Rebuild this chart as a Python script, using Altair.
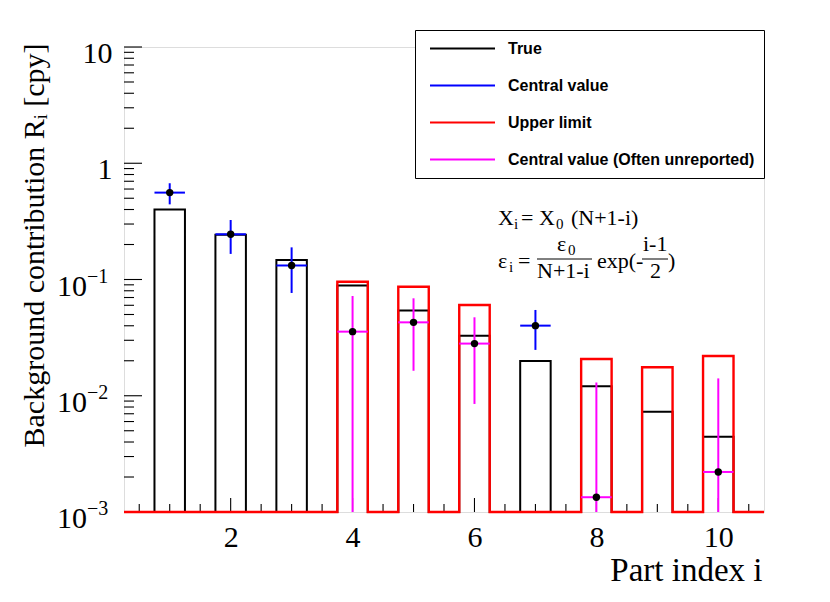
import altair as alt
import pandas as pd

# ---------------- data ----------------
part = [1, 2, 3, 4, 5, 6, 7, 8, 9, 10]
true_rate = [0.40, 0.243, 0.147, 0.089, 0.054, 0.0328, 0.0199, 0.0121, 0.0073, 0.00444]

upper_part = [4, 5, 6, 8, 9, 10]
upper_rate = [0.0957, 0.0867, 0.0604, 0.0207, 0.0176, 0.0220]

central_part = [1, 2, 3, 7]
central_rate = [0.559, 0.245, 0.132, 0.0401]
central_lo = [0.443, 0.166, 0.0766, 0.0248]
central_hi = [0.673, 0.325, 0.189, 0.0547]

unrep_part = [4, 5, 6, 8, 10]
unrep_rate = [0.0356, 0.0428, 0.0281, 0.00134, 0.00221]
unrep_lo = [0.0005, 0.0164, 0.0085, 0.0005, 0.0005]   # below the axis floor
unrep_hi = [0.0721, 0.0689, 0.0473, 0.0130, 0.0141]

series_names = ["True", "Central value", "Upper limit", "Central value (Often unreported)"]
series_colors = ["black", "#0000ff", "#ff0000", "#ff00ff"]

x_major = [2, 4, 6, 8, 10]
x_minor = [0.5 * k for k in range(1, 22)]
y_major = [0.001, 0.01, 0.1, 1, 10]
y_plain_labels = {1: "1\u00a0\u00a0", 10: "10"}
y_power_values = [0.001, 0.01, 0.1]
y_power_exps = ["\u22123", "\u22122", "\u22121"]
y_minor = [m * 10.0 ** d for d in range(-3, 1) for m in range(2, 10)]

X_MIN, X_MAX = 0.25, 10.75
Y_MIN, Y_MAX = 1e-3, 10.0
HALF = 0.25

SERIF = "Liberation Serif"
SANS = "Liberation Sans"
W, H = 640, 465

# ---------------- scales / axes ----------------
xscale = alt.Scale(domain=[X_MIN, X_MAX], nice=False, zero=False)
yscale = alt.Scale(type="log", domain=[Y_MIN, Y_MAX], nice=False)

expr = "datum.value > 3 ? '10' : datum.value > 0.3 ? '1\u00a0\u00a0' : ''"

xaxis = alt.Axis(values=x_major, title="Part index i", labelFont=SERIF, labelFontSize=30,
                 labelColor="black", labelPadding=10, ticks=False, tickSize=0, domain=False,
                 grid=False, labelFlush=False, labelOverlap=False,
                 titleFont=SERIF, titleFontSize=33, titleFontWeight="normal", titleColor="black",
                 titleX=638, titleY=68, titleAlign="right", titleBaseline="alphabetic")
yaxis = alt.Axis(values=y_major, labelExpr=expr, title="Background contribution R\u1d62 [cpy]",
                 labelFont=SERIF, labelFontSize=30, labelColor="black", labelPadding=12,
                 labelAlign="right", labelBaseline="alphabetic", labelOffset=15,
                 ticks=False, tickSize=0,
                 domain=False, grid=False, labelFlush=False, labelOverlap=False,
                 titleFont=SERIF, titleFontSize=30, titleFontWeight="normal", titleColor="black",
                 titleAngle=270, titleX=-81, titleY=-4, titleAlign="right",
                 titleBaseline="alphabetic")

legend = alt.Legend(orient="none", legendX=291, legendY=-17, title=None, symbolType="stroke",
                    symbolSize=4225, symbolStrokeWidth=2, labelFont=SANS, labelFontWeight="bold",
                    labelFontSize=16, labelColor="black", fillColor="white", strokeColor="black",
                    padding=9, rowPadding=18, clipHeight=19, labelOffset=12, symbolOffset=5,
                    labelLimit=400)
color_scale = alt.Scale(domain=series_names, range=series_colors)


def col():
    return alt.Color("series:N", scale=color_scale, legend=legend)


# ---------------- tables ----------------
def outline(parts, vals, series):
    pts = [(X_MIN, Y_MIN)]
    for p, v in sorted(zip(parts, vals)):
        pts += [(p - HALF, Y_MIN), (p - HALF, v), (p + HALF, v), (p + HALF, Y_MIN)]
    pts.append((X_MAX, Y_MIN))
    return pd.DataFrame({"x": [a for a, _ in pts], "y": [b for _, b in pts],
                         "k": list(range(len(pts))), "series": series})


true_df = outline(part, true_rate, series_names[0])
upper_df = outline(upper_part, upper_rate, series_names[2])

cen_df = pd.DataFrame({"i": central_part, "v": central_rate, "lo": central_lo, "hi": central_hi,
                       "series": series_names[1]})
cen_df["xl"] = cen_df["i"] - HALF
cen_df["xr"] = cen_df["i"] + HALF
unr_df = pd.DataFrame({"i": unrep_part, "v": unrep_rate, "lo": unrep_lo, "hi": unrep_hi,
                       "series": series_names[3]})
unr_df["xl"] = unr_df["i"] - HALF
unr_df["xr"] = unr_df["i"] + HALF

ymaj_df = pd.DataFrame({"v": y_major})
ymin_df = pd.DataFrame({"v": y_minor})
xt_df = pd.DataFrame({"v": x_minor, "major": [v in x_major for v in x_minor]})
pow_df = pd.DataFrame({"v": y_power_values, "base": "10", "exp": y_power_exps})

# ---------------- layers ----------------
TICK_W = 1.1
ytick_major = alt.Chart(ymaj_df).mark_rule(color="black", strokeWidth=TICK_W).encode(
    y=alt.Y("v:Q", scale=yscale, axis=yaxis), x=alt.value(0), x2=alt.value(18))
ytick_minor = alt.Chart(ymin_df).mark_rule(color="black", strokeWidth=TICK_W).encode(
    y=alt.Y("v:Q", scale=yscale, axis=yaxis), x=alt.value(0), x2=alt.value(10))
xtick_minor = alt.Chart(xt_df).transform_filter("!datum.major").mark_rule(
    color="black", strokeWidth=TICK_W).encode(
    x=alt.X("v:Q", scale=xscale, axis=xaxis), y=alt.value(H), y2=alt.value(H - 8))
xtick_major = alt.Chart(xt_df).transform_filter("datum.major").mark_rule(
    color="black", strokeWidth=TICK_W).encode(
    x=alt.X("v:Q", scale=xscale, axis=xaxis), y=alt.value(H), y2=alt.value(H - 14))

pow_base = alt.Chart(pow_df).mark_text(font=SERIF, fontSize=30, align="right",
                                       baseline="alphabetic", color="black", dy=16).encode(
    y=alt.Y("v:Q", scale=yscale, axis=yaxis), x=alt.value(-37), text="base:N")
pow_exp = alt.Chart(pow_df).mark_text(font=SERIF, fontSize=20, align="left",
                                      baseline="alphabetic", color="black", dy=3).encode(
    y=alt.Y("v:Q", scale=yscale, axis=yaxis), x=alt.value(-37), text="exp:N")

true_line = alt.Chart(true_df).mark_line(strokeWidth=2, strokeJoin="miter").encode(
    x=alt.X("x:Q", scale=xscale, axis=xaxis), y=alt.Y("y:Q", scale=yscale, axis=yaxis),
    order="k:Q", color=col())
upper_line = alt.Chart(upper_df).mark_line(strokeWidth=2.4, strokeJoin="miter").encode(
    x=alt.X("x:Q", scale=xscale, axis=xaxis), y=alt.Y("y:Q", scale=yscale, axis=yaxis),
    order="k:Q", color=col())


def errbars(df):
    v = alt.Chart(df).mark_rule(strokeWidth=2, clip=True).encode(
        x=alt.X("i:Q", scale=xscale, axis=xaxis), y=alt.Y("lo:Q", scale=yscale, axis=yaxis),
        y2="hi:Q", color=col())
    h = alt.Chart(df).mark_rule(strokeWidth=2).encode(
        x=alt.X("xl:Q", scale=xscale, axis=xaxis), x2="xr:Q",
        y=alt.Y("v:Q", scale=yscale, axis=yaxis), color=col())
    p = alt.Chart(df).mark_circle(size=55, color="black", opacity=1).encode(
        x=alt.X("i:Q", scale=xscale, axis=xaxis), y=alt.Y("v:Q", scale=yscale, axis=yaxis))
    return [v, h, p]


def txt(t, x, y, size=22):
    return alt.Chart(pd.DataFrame({"t": [t]})).mark_text(
        font=SERIF, fontSize=size, align="left", baseline="alphabetic", color="black").encode(
        text="t:N", x=alt.value(x), y=alt.value(y))


def bar(x1, x2, y):
    return alt.Chart(pd.DataFrame({"t": [0]})).mark_rule(color="black", strokeWidth=1).encode(
        x=alt.value(x1), x2=alt.value(x2), y=alt.value(y))


annot = [
    txt("X", 374, 178), txt("i", 390, 182, 15), txt("= X", 397, 178), txt("0", 432, 182, 15),
    txt("(N+1-i)", 447, 178),
    txt("\u03b5", 374, 221), txt("i", 385, 225, 15), txt("=", 394, 221),
    txt("\u03b5", 433, 204), txt("0", 444, 208, 15), bar(413, 468, 212), txt("N+1-i", 413, 231),
    txt("exp(-", 473, 221), txt("i-1", 519, 204), bar(518, 544, 212), txt("2", 526, 231),
    txt(")", 544, 221),
]

chart = alt.layer(
    ytick_major, ytick_minor, xtick_minor, xtick_major, pow_base, pow_exp,
    true_line, upper_line,
    *errbars(cen_df), *errbars(unr_df),
    *annot,
).properties(
    width=W, height=H,
    autosize=alt.AutoSizeParams(type="none"),
    padding={"left": 116, "top": 39, "right": 50, "bottom": 80},
).configure_view(stroke="black", strokeWidth=1.2).configure(background="white")

chart.save("out.html", embed_options={"renderer": "svg", "actions": False})
